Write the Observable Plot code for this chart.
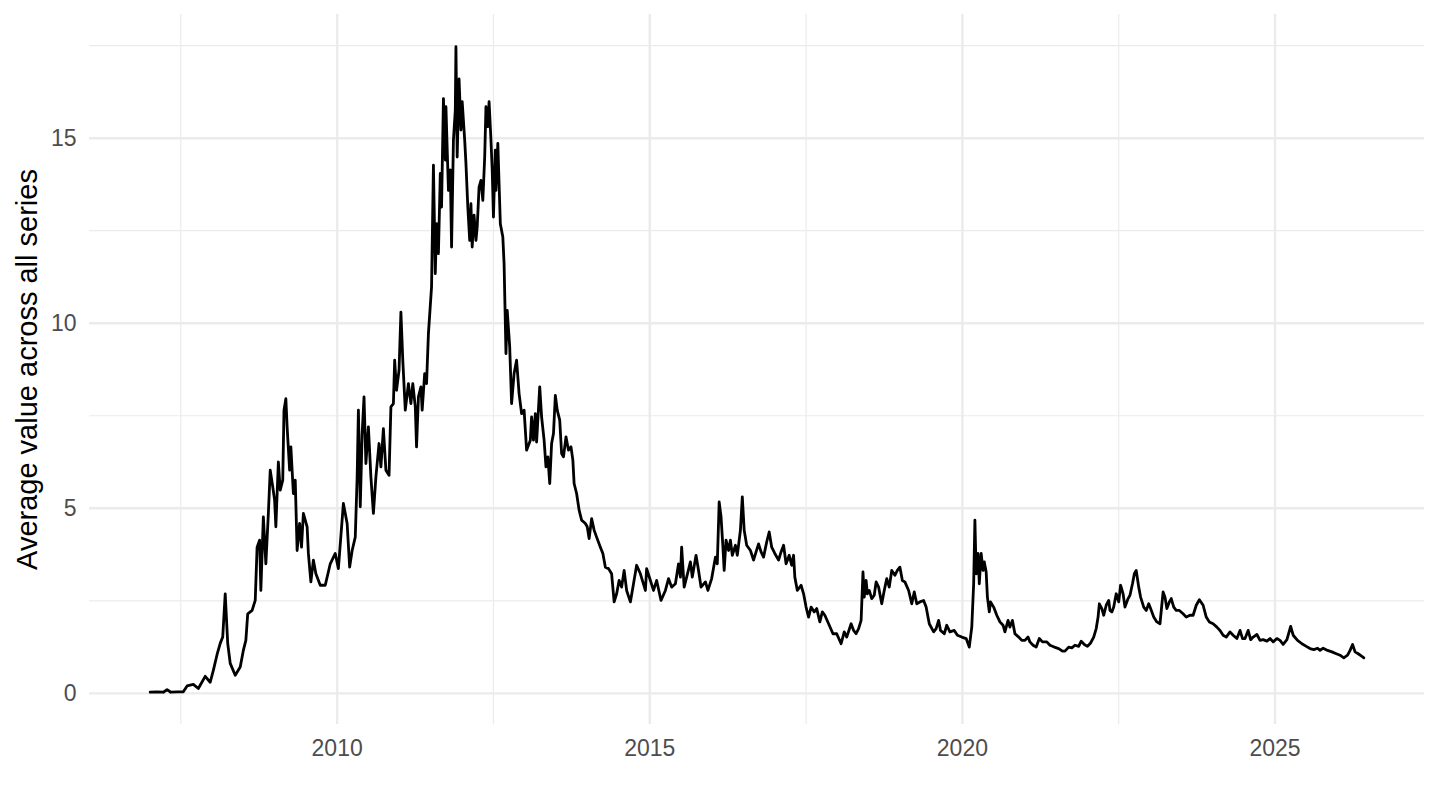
<!DOCTYPE html>
<html>
<head>
<meta charset="utf-8">
<script src="https://cdn.jsdelivr.net/npm/d3@7"></script>
<script src="https://cdn.jsdelivr.net/npm/@observablehq/plot@0.6"></script>
<style>
  html, body { margin: 0; padding: 0; background: #ffffff; }
  svg { display: block; }
</style>
</head>
<body>
<div id="chart"></div>
<script>
// Decimal years (time) and average values
const years = [
2007.01,2007.12,2007.22,2007.28,2007.34,2007.45,2007.54,2007.60,2007.70,2007.78,2007.89,2007.97,
2008.02,2008.08,2008.13,2008.17,2008.21,2008.25,2008.29,2008.37,2008.45,2008.50,2008.54,2008.57,2008.64,2008.69,2008.72,2008.76,2008.78,2008.82,2008.86,2008.90,2008.93,2008.97,
2009.00,2009.02,2009.06,2009.09,2009.13,2009.15,2009.18,2009.20,2009.24,2009.26,2009.30,2009.33,2009.36,2009.40,2009.43,2009.46,2009.52,2009.54,2009.58,2009.62,2009.66,2009.73,2009.81,2009.89,2009.97,
2010.02,2010.10,2010.16,2010.20,2010.24,2010.29,2010.32,2010.34,2010.37,2010.40,2010.43,2010.46,2010.50,2010.54,2010.58,2010.62,2010.67,2010.70,2010.74,2010.78,2010.83,2010.86,2010.90,2010.92,2010.95,2010.99,
2011.02,2011.05,2011.09,2011.14,2011.18,2011.21,2011.25,2011.27,2011.30,2011.34,2011.36,2011.40,2011.43,2011.46,2011.51,2011.54,2011.57,2011.59,2011.62,2011.65,2011.67,2011.70,2011.73,2011.74,2011.78,2011.81,2011.83,2011.86,2011.89,2011.90,2011.92,2011.95,2011.98,
2012.00,2012.04,2012.06,2012.09,2012.12,2012.14,2012.16,2012.19,2012.22,2012.24,2012.27,2012.30,2012.33,2012.36,2012.38,2012.41,2012.43,2012.46,2012.48,2012.50,2012.53,2012.54,2012.57,2012.59,2012.61,2012.65,2012.67,2012.70,2012.72,2012.76,2012.79,2012.83,2012.87,2012.91,2012.95,2012.99,
2013.03,2013.09,2013.11,2013.14,2013.17,2013.19,2013.24,2013.27,2013.31,2013.34,2013.37,2013.40,2013.43,2013.46,2013.49,2013.52,2013.56,2013.59,2013.62,2013.66,2013.70,2013.74,2013.77,2013.79,2013.83,2013.87,2013.91,2013.97,
2014.00,2014.03,2014.07,2014.11,2014.15,2014.21,2014.25,2014.29,2014.34,2014.39,2014.43,2014.47,2014.51,2014.55,2014.59,2014.63,2014.69,2014.74,2014.79,2014.85,2014.93,2014.95,
2015.01,2015.06,2015.11,2015.18,2015.25,2015.30,2015.35,2015.41,2015.46,2015.49,2015.51,2015.55,2015.59,2015.65,2015.68,2015.74,2015.78,2015.82,2015.89,2015.93,2015.99,
2016.05,2016.08,2016.11,2016.14,2016.17,2016.19,2016.22,2016.26,2016.29,2016.32,2016.37,2016.40,2016.45,2016.48,2016.51,2016.55,2016.61,2016.66,2016.70,2016.74,2016.78,2016.82,2016.87,2016.91,2016.95,
2017.00,2017.06,2017.10,2017.14,2017.18,2017.23,2017.27,2017.30,2017.32,2017.36,2017.42,2017.46,2017.50,2017.54,2017.58,2017.63,2017.67,2017.72,2017.76,2017.80,2017.86,2017.93,2017.99,
2018.06,2018.11,2018.15,2018.22,2018.26,2018.30,2018.34,2018.38,2018.41,2018.43,2018.46,2018.48,2018.51,2018.55,2018.59,2018.62,2018.66,2018.71,2018.75,2018.79,2018.83,2018.87,2018.92,2018.96,
2019.00,2019.04,2019.08,2019.14,2019.19,2019.23,2019.27,2019.32,2019.38,2019.42,2019.47,2019.54,2019.58,2019.62,2019.65,2019.71,2019.75,2019.80,2019.87,2019.92,2019.99,
2020.06,2020.11,2020.15,2020.18,2020.20,2020.22,2020.25,2020.27,2020.30,2020.33,2020.35,2020.38,2020.40,2020.43,2020.45,2020.50,2020.55,2020.60,2020.65,2020.68,2020.73,2020.76,2020.80,2020.84,2020.90,2020.95,
2021.00,2021.05,2021.08,2021.13,2021.18,2021.23,2021.28,2021.35,2021.40,2021.47,2021.54,2021.60,2021.64,2021.70,2021.75,2021.80,2021.86,2021.90,2021.95,
2022.00,2022.05,2022.10,2022.14,2022.17,2022.19,2022.23,2022.26,2022.30,2022.34,2022.36,2022.39,2022.42,2022.46,2022.50,2022.53,2022.57,2022.60,2022.65,2022.68,2022.72,2022.75,2022.78,2022.82,2022.85,2022.90,2022.94,2022.98,
2023.01,2023.06,2023.11,2023.16,2023.21,2023.24,2023.27,2023.31,2023.34,2023.38,2023.42,2023.47,2023.53,2023.58,2023.64,2023.69,2023.74,2023.79,2023.85,2023.90,2023.95,
2024.01,2024.07,2024.12,2024.17,2024.22,2024.28,2024.33,2024.39,2024.44,2024.48,2024.52,2024.57,2024.61,2024.65,2024.71,2024.76,2024.81,2024.87,2024.92,2024.97,
2025.03,2025.08,2025.13,2025.19,2025.25,2025.29,2025.36,2025.43,2025.50,2025.56,2025.62,2025.68,2025.72,2025.77,2025.84,2025.91,2025.98,
2026.04,2026.10,2026.16,2026.20,2026.24,2026.28,2026.33,2026.39,2026.42
];
const values = [
0.03,0.04,0.03,0.10,0.03,0.04,0.04,0.20,0.24,0.13,0.46,0.30,
0.62,1.05,1.35,1.52,2.69,1.35,0.81,0.49,0.71,1.16,1.43,2.15,2.24,2.51,3.95,4.14,2.78,4.77,3.50,4.86,6.03,5.58,
5.22,4.50,6.25,5.49,5.76,7.65,7.96,7.20,6.03,6.66,5.40,5.76,3.86,4.59,3.95,4.86,4.50,3.78,3.01,3.60,3.23,2.92,2.92,3.50,3.78,
3.37,5.13,4.59,3.41,3.86,4.22,5.85,7.65,5.04,7.02,8.01,6.21,7.20,5.85,4.86,5.85,6.75,6.12,7.15,6.03,5.89,7.74,7.83,9.00,8.19,8.73,
10.30,9.00,7.65,8.37,7.83,8.37,7.74,6.66,8.01,8.28,7.65,8.64,8.37,9.72,10.98,14.27,11.34,12.69,11.88,14.05,13.14,16.07,14.41,15.85,13.59,14.14,12.06,14.95,15.76,17.47,14.49,16.60,15.22,
15.99,14.95,14.32,13.14,12.24,13.23,12.06,12.92,12.24,12.60,13.68,13.86,13.32,14.49,15.85,15.31,15.99,14.95,14.14,12.87,14.68,13.59,14.86,13.77,12.69,12.33,11.61,9.18,10.35,9.36,7.83,8.64,9.00,8.10,7.56,7.65,
6.57,6.84,7.47,6.84,7.56,6.79,8.28,7.47,6.84,6.12,6.39,5.67,6.75,7.02,8.05,7.65,7.38,6.48,6.39,6.93,6.57,6.66,6.30,5.67,5.40,4.95,4.68,4.59,
4.50,4.18,4.72,4.41,4.22,3.95,3.78,3.41,3.37,3.23,2.47,2.69,3.05,2.87,3.32,2.78,2.47,2.96,3.46,3.23,2.78,3.37,
3.05,2.78,3.05,2.51,2.78,3.10,2.87,2.96,3.50,3.14,3.95,2.87,3.14,3.55,3.14,3.73,3.32,2.87,3.01,2.78,3.10,
3.68,3.50,5.17,4.77,3.95,3.32,4.14,3.86,4.14,3.73,4.00,3.73,4.41,5.31,4.41,4.00,3.86,3.60,3.82,4.04,3.82,3.68,4.09,4.36,3.95,
3.78,3.60,3.82,4.00,3.50,3.73,3.46,3.73,3.14,2.78,2.92,2.69,2.33,2.06,2.33,2.20,2.29,1.93,2.20,2.11,1.88,1.61,1.61,
1.34,1.66,1.52,1.88,1.70,1.61,1.75,1.97,3.28,2.60,3.05,2.69,2.78,2.56,2.65,3.01,2.87,2.42,2.78,3.10,2.87,3.32,3.19,3.32,
3.41,3.05,3.01,2.78,2.42,2.74,2.42,2.47,2.51,2.33,1.88,1.66,1.75,1.97,1.70,1.61,1.84,1.66,1.70,1.57,1.52,
1.48,1.25,1.79,2.96,4.68,3.23,3.78,2.96,3.78,3.32,3.55,3.28,2.60,2.20,2.47,2.33,2.11,1.93,1.84,1.66,1.97,1.79,1.97,1.61,1.52,1.43,
1.43,1.52,1.39,1.30,1.25,1.48,1.39,1.39,1.30,1.25,1.21,1.14,1.14,1.25,1.23,1.30,1.27,1.41,1.32,
1.27,1.36,1.52,1.75,2.06,2.42,2.29,2.11,2.38,2.51,2.24,2.20,2.33,2.69,2.47,2.92,2.69,2.33,2.56,2.65,2.96,3.23,3.32,2.87,2.60,2.33,2.24,2.42,
2.29,2.06,1.93,1.88,2.74,2.60,2.29,2.47,2.56,2.33,2.24,2.24,2.15,2.06,2.11,2.11,2.38,2.53,2.38,2.06,1.93,
1.88,1.79,1.70,1.57,1.52,1.66,1.57,1.48,1.70,1.48,1.48,1.70,1.45,1.52,1.59,1.43,1.45,1.41,1.48,1.39,
1.48,1.43,1.32,1.45,1.81,1.57,1.43,1.34,1.27,1.21,1.18,1.22,1.16,1.22,1.16,1.12,1.07,
1.03,0.96,1.03,1.16,1.32,1.12,1.07,1.00,0.96
];

// Axis ticks and grid breaks
const xMajor = [2010, 2015, 2020, 2025];
const xMinor = [2007.5, 2012.5, 2017.5, 2022.5];
const yMajor = [0, 5, 10, 15];
const yMinor = [2.5, 7.5, 12.5, 17.5];
const yTitle = "Average value across all series";

const data = years.map((t, i) => ({year: t, value: values[i]}));

// ggplot-like 5% expansion of the data range
function expand(arr) {
  const [a, b] = d3.extent(arr);
  const p = (b - a) * 0.05;
  return [a - p, b + p];
}

const grid = "#EBEBEB";
const font = "'Liberation Sans', Arial, Helvetica, sans-serif";

const chart = Plot.plot({
  width: 1440,
  height: 810,
  marginLeft: 89,
  marginRight: 16,
  marginTop: 14,
  marginBottom: 86,
  style: {fontFamily: font, background: "#ffffff", color: "#4D4D4D"},
  x: {type: "linear", domain: expand(years)},
  y: {type: "linear", domain: expand(values)},
  marks: [
    Plot.ruleY(yMinor, {stroke: grid, strokeWidth: 1.2}),
    Plot.ruleX(xMinor, {stroke: grid, strokeWidth: 1.2}),
    Plot.ruleY(yMajor, {stroke: grid, strokeWidth: 2.4}),
    Plot.ruleX(xMajor, {stroke: grid, strokeWidth: 2.4}),
    Plot.axisX(xMajor, {tickSize: 0, tickPadding: 15, label: null, fontSize: 23, fill: "#4D4D4D", tickFormat: d => String(d)}),
    Plot.axisY(yMajor, {tickSize: 0, tickPadding: 13, label: null, fontSize: 23, fill: "#4D4D4D", tickFormat: d => String(d)}),
    Plot.text([yTitle], {text: d => d, frameAnchor: "left", rotate: -90, dx: -62, fontSize: 29, fill: "#000000", textAnchor: "middle", lineAnchor: "middle"}),
    Plot.line(data, {x: "year", y: "value", stroke: "#000000", strokeWidth: 2.8, strokeLinejoin: "round"})
  ]
});

document.getElementById("chart").appendChild(chart);
</script>
</body>
</html>
